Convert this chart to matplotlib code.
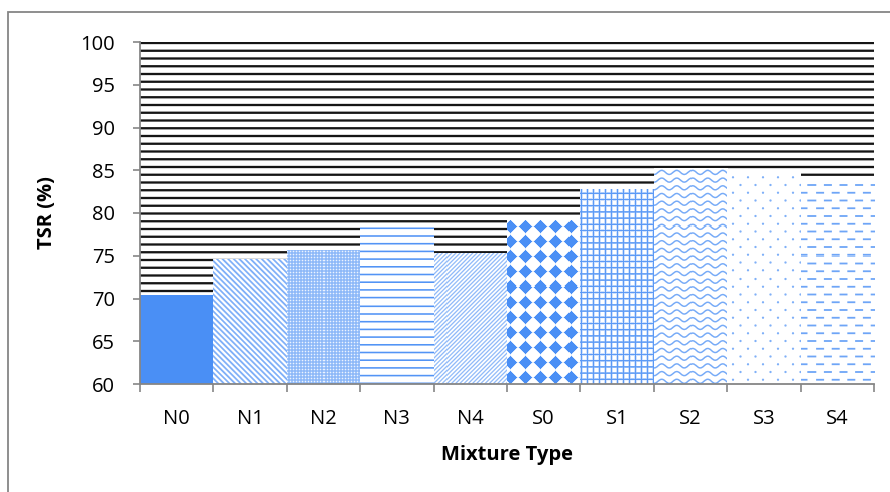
import numpy as np
import matplotlib
matplotlib.use("Agg")
import matplotlib.pyplot as plt
from matplotlib.colors import to_rgb
from matplotlib.patches import Rectangle

# TSR per mixture
mixtures = ["N0", "N1", "N2", "N3", "N4", "S0", "S1", "S2", "S3", "S4"]
tsr = [70.4, 74.6, 75.7, 78.6, 75.3, 79.2, 82.8, 85.3, 84.8, 84.0]
fills = ["solid", "ldiag", "checker", "hlines", "rdiag",
         "diamond", "grid", "wave", "dots", "dashes"]

y_ticks = [60, 65, 70, 75, 80, 85, 90, 95, 100]

BLUE = "#4a8ff5"
GREY = "#868686"

plt.rcParams["font.family"] = ["Open Sans", "DejaVu Sans"]

fig_w, fig_h = 890, 492
ax_l, ax_r, ax_t, ax_b = 140, 874, 42, 384
aw, ah = ax_r - ax_l, ax_b - ax_t

yy, xx = np.mgrid[0:ah, 0:aw].astype(float)


def wrap(v, period):
    return (v + period / 2) % period - period / 2


def line_cov(d, width):
    return np.clip(width / 2 + 0.5 - np.abs(d), 0, 1)


def coverage(kind):
    if kind == "solid":
        return np.ones_like(xx)
    if kind == "ldiag":
        return 0.7 * line_cov(wrap(xx - yy, 5.6) / np.sqrt(2), 1.8)
    if kind == "rdiag":
        return 0.6 * line_cov(wrap(xx + yy, 4.2) / np.sqrt(2), 1.3)
    if kind == "checker":
        dot = (xx % 3 == 0) & (yy % 3 == 0)
        soft = ((xx % 3 == 0) | (yy % 3 == 0)) & ~dot
        return np.where(dot, 0.1, np.where(soft, 0.5, 0.62))
    if kind == "hlines":
        return 0.95 * line_cov(wrap(yy - 2, 7.7), 1.6)
    if kind == "diamond":
        dx = wrap(xx - 10, 15.0)
        dy = wrap(yy - 5, 15.0)
        return np.clip((6.6 - (np.abs(dx) + np.abs(dy))) / 1.2 + 0.5, 0, 1)
    if kind == "grid":
        v = line_cov(wrap(xx - 3, 6.0), 1.6)
        h = line_cov(wrap(yy - 2, 6.2), 1.6)
        return 0.9 * np.maximum(v, h)
    if kind == "wave":
        amp, lam = 2.0, 15.0
        slope = amp * 2 * np.pi / lam * np.cos(2 * np.pi * xx / lam)
        d = wrap(yy - amp * np.sin(2 * np.pi * xx / lam), 7.7)
        return 0.75 * line_cov(d / np.sqrt(1 + slope ** 2), 1.5)
    if kind == "dots":
        r = np.round((yy - 4) / 7.75)
        dy = yy - 4 - r * 7.75
        dx = wrap(xx - (r % 2) * 7.5, 15.0)
        return 0.7 * np.clip(1.6 - np.sqrt(dx ** 2 + dy ** 2), 0, 1)
    if kind == "dashes":
        r = np.round((yy - 4) / 7.75)
        dy = yy - 4 - r * 7.75
        dx = wrap(xx - (r % 2) * 7.8, 15.6)
        return 0.8 * line_cov(dy, 1.8) * line_cov(dx, 8.0)
    raise ValueError(kind)


def texture(cov, color):
    c = np.array(to_rgb(color))
    return 1 - cov[..., None] * (1 - c)


fig = plt.figure(figsize=(fig_w / 100, fig_h / 100), dpi=100)
ax = fig.add_axes([ax_l / fig_w, 1 - ax_b / fig_h, aw / fig_w, ah / fig_h])

# plot area: dark horizontal rules
bg = line_cov(wrap(yy - 0.5, 7.75), 2.3)
ax.imshow(texture(bg, "#151515"), extent=(0, 1, 0, 1), transform=ax.transAxes,
          interpolation="nearest", aspect="auto", zorder=0)

x = np.arange(len(mixtures))
bars = ax.bar(x, tsr, width=1.0, color="white", edgecolor="none", zorder=1)
for bar, kind in zip(bars, fills):
    im = ax.imshow(texture(coverage(kind), BLUE), extent=(0, 1, 0, 1),
                   transform=ax.transAxes, interpolation="nearest",
                   aspect="auto", zorder=2)
    im.set_clip_path(bar)

ax.set_xlim(-0.5, len(mixtures) - 0.5)
ax.set_ylim(y_ticks[0], y_ticks[-1])
ax.set_yticks(y_ticks)

# category boundaries as ticks, names centred in between
ax.set_xticks(np.arange(len(mixtures) + 1) - 0.5)
ax.set_xticklabels([])
ax.set_xticks(x, minor=True)
ax.set_xticklabels(mixtures, minor=True)

for s in ["top", "right"]:
    ax.spines[s].set_visible(False)
for s in ["left", "bottom"]:
    ax.spines[s].set_color(GREY)
    ax.spines[s].set_linewidth(1.3)
    ax.spines[s].set_zorder(3)

ax.tick_params(axis="y", which="major", length=5, width=1.2, color=GREY,
               labelsize=14.5, pad=13, labelcolor="black")
ax.tick_params(axis="x", which="major", length=6, width=1.2, color=GREY)
ax.tick_params(axis="x", which="minor", length=0, labelsize=14.5, pad=18,
               labelcolor="black")

ax.set_ylabel("TSR (%)", fontsize=14.5, fontweight="bold")
ax.set_xlabel("Mixture Type", fontsize=14.5, fontweight="bold")
ax.yaxis.set_label_coords((47 - ax_l) / aw, 0.5)
ax.yaxis.label.set_verticalalignment("center")
ax.xaxis.set_label_coords(0.5, (ax_b - 455) / ah)
ax.xaxis.label.set_verticalalignment("center")

# chart frame
fig.patches.append(Rectangle((8 / fig_w, -0.1), 1.2, 1.1 - 12 / fig_h,
                             transform=fig.transFigure, fill=False,
                             edgecolor=GREY, linewidth=1.3))

fig.savefig("out.png", dpi=100)
